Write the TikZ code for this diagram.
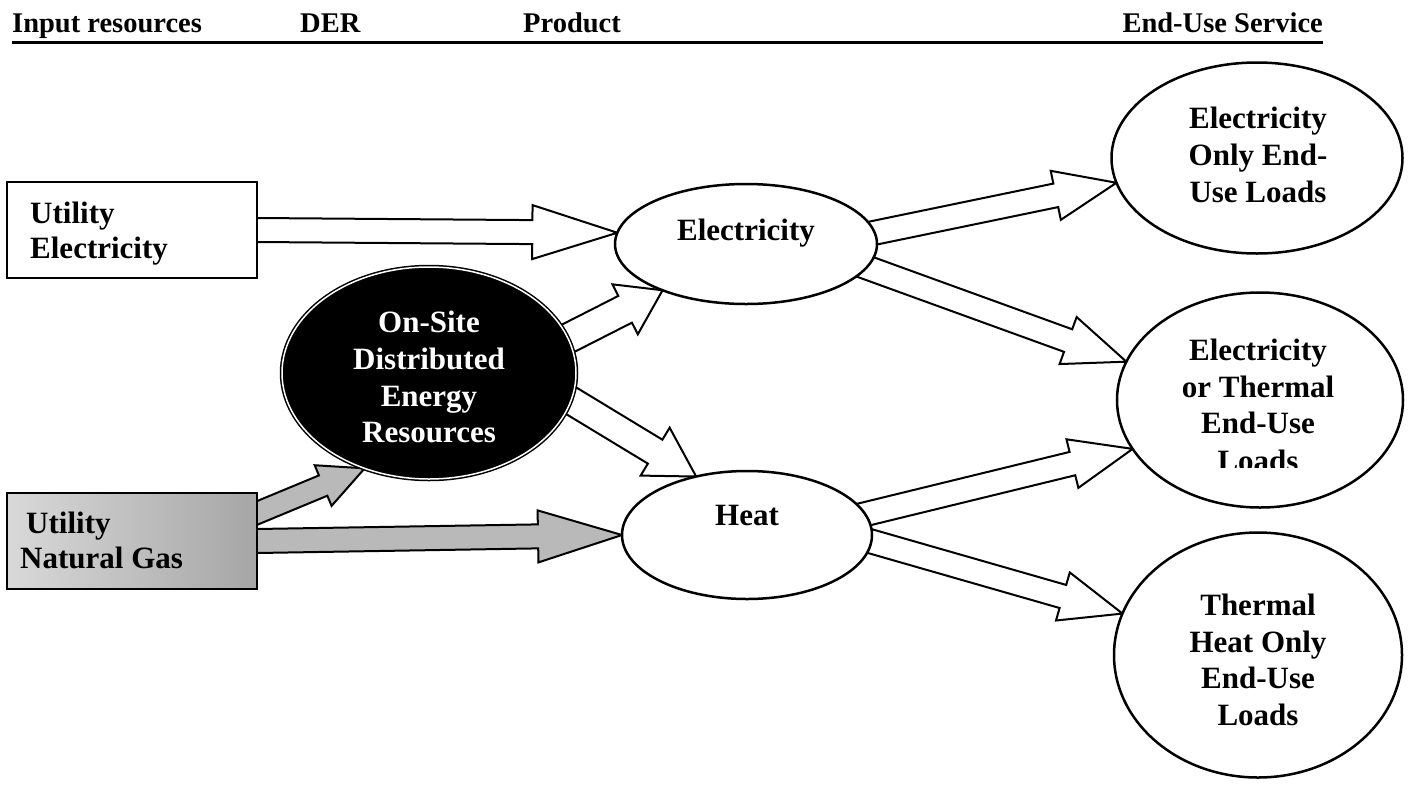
\documentclass[tikz,border=0pt]{standalone}
\usepackage{fontspec}
\setmainfont{Liberation Serif}
\usetikzlibrary{shapes.geometric,calc}
\pgfdeclarelayer{bg}
\pgfsetlayers{bg,main}

% block arrow: [style]{from}{to}{head length}{head half width}{shaft half width}
\newcommand{\barrow}[6][]{%
  \coordinate (ba-a) at ($(#2)!-8pt!(#3)$);
  \coordinate (ba-c) at ($(#3)!#4!(#2)$);
  \draw[arrowbody,#1] ($(ba-a)!#6!90:(#3)$) -- ($(ba-c)!#6!90:(#3)$)
     -- ($(ba-c)!#5!90:(#3)$) -- (#3) -- ($(ba-c)!#5!-90:(#3)$)
     -- ($(ba-c)!#6!-90:(#3)$) -- ($(ba-a)!#6!-90:(#3)$) -- cycle;
}

\tikzset{
  hdr/.style={font=\fontsize{28.5}{31}\selectfont\bfseries, inner sep=0, anchor=base west},
  txt/.style={font=\fontsize{31}{36}\selectfont\bfseries, inner sep=0, anchor=base},
  boxnode/.style={draw, line width=2.5pt, fill=white, inner sep=0, outer sep=0,
                  minimum width=250pt, minimum height=96pt},
  oval/.style={ellipse, draw, line width=2.5pt, fill=white, inner sep=0, outer sep=0},
  arrowbody/.style={draw, line width=2pt, fill=white, line join=miter},
  gasarrow/.style={fill=gray!55},
}

\begin{document}
\begin{tikzpicture}[x=1pt,y=-1pt]
\useasboundingbox (0,0) rectangle (1411,785);

% header
\node[hdr] (h1) at (12,32) {Input resources};
\node[hdr] (h2) at (300,32) {DER};
\node[hdr] (h3) at (523,32) {Product};
\node[hdr, anchor=base east] (h4) at (1323,32) {End-Use Service};
\draw[line width=3pt] ($(h1.base west)+(0,10)$) -- ($(h4.base east)+(0,10)$);

% input boxes
\node[boxnode] (ebox) at (132,230) {};
\node[txt, anchor=base west] (ebox-t1) at (30,223) {Utility};
\node[txt, anchor=base west] (ebox-t2) at (30,258) {Electricity};

\node[boxnode, left color=gray!30, right color=gray!70] (gbox) at (132,541) {};
\node[txt, anchor=base west] (gbox-t1) at (26,533) {Utility};
\node[txt, anchor=base west] (gbox-t2) at (20,568) {Natural Gas};
\coordinate (gdtail) at ($(gbox.north east)+(0,20)$);

% DER
\node[oval, fill=black, draw=black, double=white, double distance=1.5pt, line width=1.5pt,
      minimum width=294pt, minimum height=212pt] (der) at (429,373) {};
\node[txt, text=white] (der-t1) at (429,332) {On-Site};
\node[txt, text=white] (der-t2) at (429,369) {Distributed};
\node[txt, text=white] (der-t3) at (429,406) {Energy};
\node[txt, text=white] (der-t4) at (429,442) {Resources};

% products
\node[oval, minimum width=262pt, minimum height=120pt] (elec) at (746,244) {};
\node[txt] (elec-t) at (746,240) {Electricity};
\node[oval, minimum width=250pt, minimum height=128pt] (heat) at (747,535) {};
\node[txt] (heat-t) at (747,525) {Heat};

% end-use services
\node[oval, minimum width=291pt, minimum height=191pt] (eo) at (1257,158) {};
\node[txt] (eo-t1) at (1258,128) {Electricity};
\node[txt] (eo-t2) at (1258,165) {Only End-};
\node[txt] (eo-t3) at (1258,202) {Use Loads};

\node[oval, minimum width=286pt, minimum height=215pt] (et) at (1260,400) {};
\node[txt] (et-t1) at (1258,360) {Electricity};
\node[txt] (et-t2) at (1258,397) {or Thermal};
\node[txt] (et-t3) at (1258,433) {End-Use};
\begin{scope}
  \clip (1100,440) rectangle (1420,467);
  \node[txt] (et-t4) at (1258,471) {Loads};
\end{scope}

\node[oval, minimum width=288pt, minimum height=245pt] (th) at (1258,655) {};
\node[txt] (th-t1) at (1258,615) {Thermal};
\node[txt] (th-t2) at (1258,652) {Heat Only};
\node[txt] (th-t3) at (1258,688) {End-Use};
\node[txt] (th-t4) at (1258,725) {Loads};

% arrows
\begin{pgfonlayer}{bg}
\barrow{ebox.east}{elec.175}{85pt}{27pt}{12pt}
\barrow[gasarrow]{gdtail}{der.-124}{45pt}{22pt}{11pt}
\barrow[gasarrow]{gbox.east}{heat.west}{84pt}{26pt}{12pt}
\barrow{der.14}{elec.-151}{42pt}{28pt}{15pt}
\barrow{der.-11}{heat.131}{48pt}{28pt}{14pt}
\barrow{elec.5}{eo.-170}{62pt}{25pt}{12pt}
\barrow{elec.-11}{et.164}{62pt}{25pt}{12pt}
\barrow{heat.10}{et.-159}{62pt}{25pt}{12pt}
\barrow{heat.-3}{th.163}{62pt}{25pt}{12pt}
\end{pgfonlayer}
\end{tikzpicture}
\end{document}
